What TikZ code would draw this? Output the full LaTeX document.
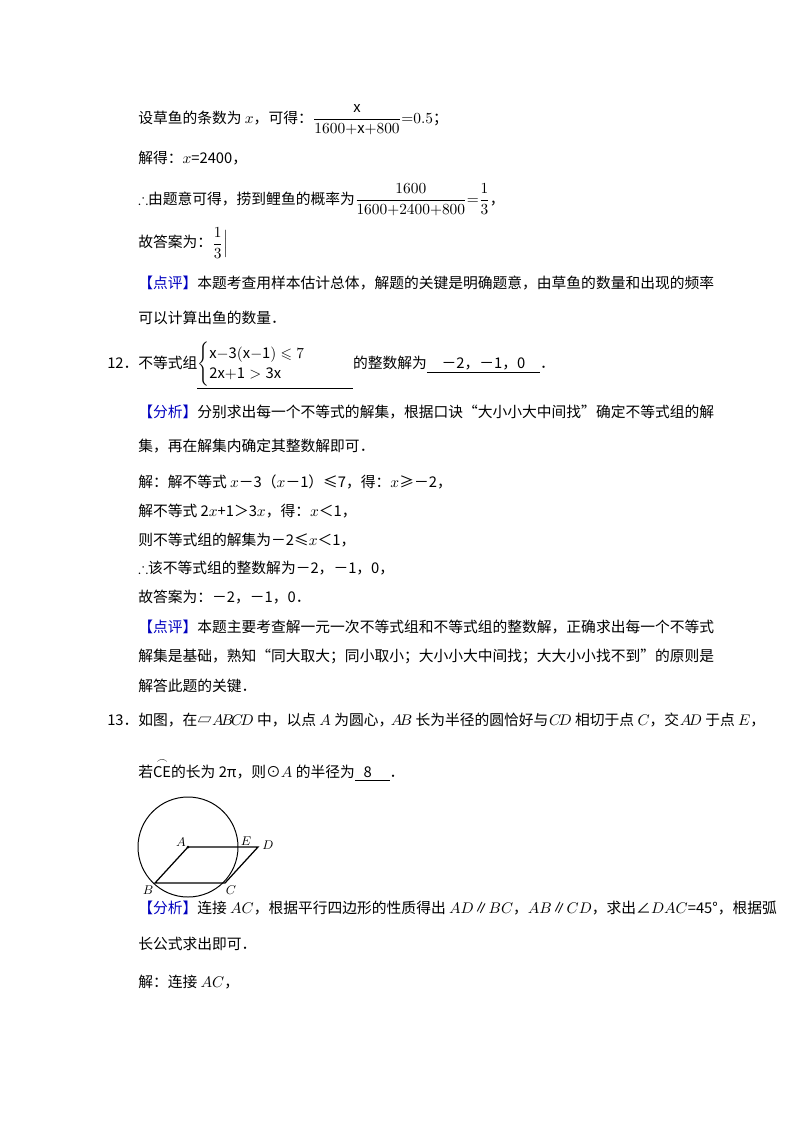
\documentclass[tikz,border=0pt]{standalone}
\usepackage{amsmath,amssymb}
\usepackage{fontspec}
\setmainfont{Noto Sans CJK SC}
\begin{document}
\begin{tikzpicture}[x=0.025cm,y=-0.025cm,
  t/.style={anchor=west,inner sep=0pt,font=\fontsize{10.5}{12}\selectfont},
  lab/.style={font=\fontsize{9}{10}\selectfont}]
\useasboundingbox (0,0) rectangle (800,1132);
\node[t] (l1) at (138,120) {设草鱼的条数为 $x$，可得：$\dfrac{\mathrm{x}}{1600\mathrm{+x+}800}{=}0.5$；};
\node[t] (l2) at (138,158) {解得：$x$=2400，};
\node[t] (l3) at (138,200) {$\therefore$由题意可得，捞到鲤鱼的概率为$\dfrac{1600}{1600\mathrm{+}2400\mathrm{+}800}{=}\dfrac{1}{3}$，};
\node[t] (l4) at (138,243) {故答案为：$\dfrac{1}{3}\Big|$};
\node[t] (l5) at (138,283) {\textcolor{blue!75!black}{【点评】}本题考查用样本估计总体，解题的关键是明确题意，由草鱼的数量和出现的频率};
\node[t] (l6) at (138,318) {可以计算出鱼的数量．};
\node[t] (l7) at (107,366) {12．不等式组\underline{$\begin{cases}\mathrm{x{-}3(x{-}1)}\leqslant 7\\ \mathrm{2x{+}1}>\mathrm{3x}\end{cases}$\hspace{2.2em}}的整数解为\underline{\hspace{1em}－2，－1，0\hspace{1em}}．};
\node[t] (l8) at (138,412) {\textcolor{blue!75!black}{【分析】}分别求出每一个不等式的解集，根据口诀“大小小大中间找”确定不等式组的解};
\node[t] (l9) at (138,446) {集，再在解集内确定其整数解即可．};
\node[t] (l10) at (138,482) {解：解不等式 $x$－3（$x$－1）≤7，得：$x$≥－2，};
\node[t] (l11) at (138,511) {解不等式 2$x$+1＞3$x$，得：$x$＜1，};
\node[t] (l12) at (138,540) {则不等式组的解集为－2≤$x$＜1，};
\node[t] (l13) at (138,568) {$\therefore$该不等式组的整数解为－2，－1，0，};
\node[t] (l14) at (138,597) {故答案为：－2，－1，0．};
\node[t] (l15) at (138,627) {\textcolor{blue!75!black}{【点评】}本题主要考查解一元一次不等式组和不等式组的整数解，正确求出每一个不等式};
\node[t] (l16) at (138,656) {解集是基础，熟知“同大取大；同小取小；大小小大中间找；大大小小找不到”的原则是};
\node[t] (l17) at (138,686) {解答此题的关键．};
\node[t] (l18) at (107,720) {13．如图，在▱\,$\!A\!B\!C\!D$ 中，以点 $A$ 为圆心，$\!A\!B$ 长为半径的圆恰好与 $\!C\!D$ 相切于点 $C$，交 $\!A\!D$ 于点 $E$，};
\node[t] (l19) at (138,770) {若$\overset{\frown}{\mathrm{CE}}$的长为 2π，则⊙$A$ 的半径为\underline{\hspace{0.6em}8\hspace{1.2em}}．};
% figure
\coordinate (A) at (188,847);
\coordinate (B) at (155,883);
\coordinate (C) at (225,883);
\coordinate (D) at (258,847);
\coordinate (E) at (238,847);
\draw[line width=0.7pt] (A) circle[radius=50];
\draw[line width=0.9pt] (A) -- (D) -- (C) -- (B) -- cycle;
\fill (A) circle[radius=1.5];
\node[lab] (la) at (181,842) {$A$};
\node[lab] (lb) at (148,890) {$B$};
\node[lab] (lc) at (231,890) {$C$};
\node[lab] (ld) at (268,845) {$D$};
\node[lab] (le) at (246,841) {$E$};
\node[t] (l20) at (138,908) {\textcolor{blue!75!black}{【分析】}连接 $AC$，根据平行四边形的性质得出 $AD$∥$BC$，$AB$∥$CD$，求出∠$DAC$=45°，根据弧};
\node[t] (l21) at (138,944) {长公式求出即可．};
\node[t] (l22) at (138,982) {解：连接 $AC$，};
\end{tikzpicture}
\end{document}
